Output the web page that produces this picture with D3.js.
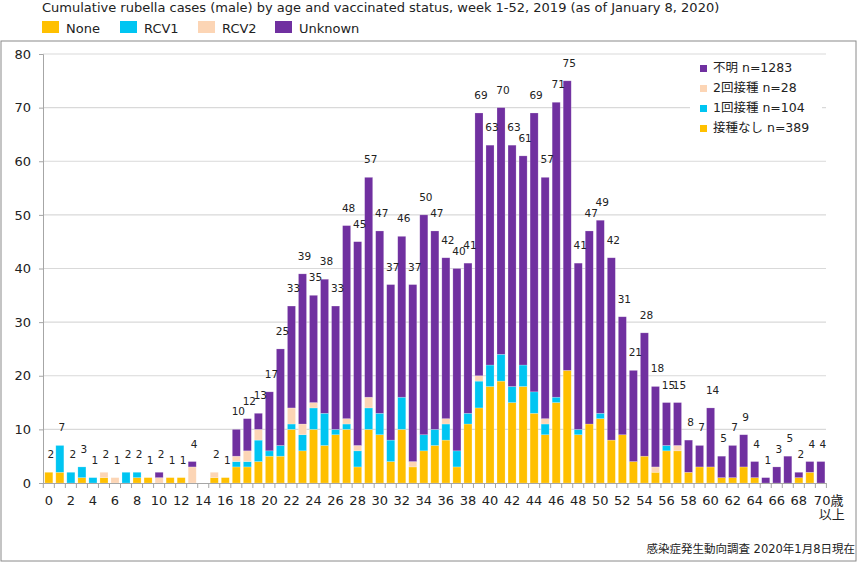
<!DOCTYPE html>
<html><head><meta charset="utf-8">
<script src="https://cdn.jsdelivr.net/npm/d3@7"></script>
<style>
body{margin:0;background:#fff;}
text{font-family:"DejaVu Sans","Noto Sans CJK JP",sans-serif;fill:#222;}
</style></head>
<body><svg id="c" width="858" height="564"></svg>
<script>
const ages = [0,1,2,3,4,5,6,7,8,9,10,11,12,13,14,15,16,17,18,19,20,21,22,23,24,25,26,27,28,29,30,31,32,33,34,35,36,37,38,39,40,41,42,43,44,45,46,47,48,49,50,51,52,53,54,55,56,57,58,59,60,61,62,63,64,65,66,67,68,69,70];
const noneVals = [2,2,0,1,0,1,0,0,1,1,0,1,1,0,0,1,1,3,3,4,5,5,10,6,10,7,9,10,3,10,9,4,10,3,6,7,8,3,11,14,18,19,15,18,13,9,15,21,9,11,12,8,9,4,5,2,6,6,2,3,3,1,1,3,1,0,0,0,1,2,0];
const rcv1Vals = [0,5,2,2,1,0,0,2,1,0,0,0,0,0,0,0,0,1,1,4,1,2,1,3,4,6,1,1,3,4,4,4,6,0,3,3,3,3,2,5,4,5,3,4,4,2,1,0,1,0,1,0,0,0,0,0,1,0,0,0,0,0,0,0,0,0,0,0,0,0,0];
const rcv2Vals = [0,0,0,0,0,1,1,0,0,0,1,0,0,3,0,1,0,1,2,2,0,0,3,2,1,0,0,1,1,2,0,0,0,1,0,0,1,0,0,1,0,0,0,0,0,1,0,0,0,0,0,0,0,0,0,1,0,1,0,0,0,0,0,0,0,0,0,0,0,0,0];
const unknownVals = [0,0,0,0,0,0,0,0,0,0,1,0,0,1,0,0,0,5,6,3,11,18,19,28,20,25,23,36,38,41,34,29,30,33,41,37,30,34,28,49,41,46,45,39,52,45,55,54,31,36,36,34,22,17,23,15,8,8,6,4,11,4,6,6,3,1,3,5,1,2,4];
const yTicks = [0,10,20,30,40,50,60,70,80];
const seriesNames = ["None","RCV1","RCV2","Unknown"];
const legendJP = ["不明 n=1283","2回接種 n=28","1回接種 n=104","接種なし n=389"];
const colors = {None:"#FFC000",RCV1:"#00C5F2",RCV2:"#FCD5B5",Unknown:"#7030A0"};
const titleText = "Cumulative rubella cases (male) by age and vaccinated status, week 1-52, 2019 (as of January 8, 2020)";
const sourceText = "感染症発生動向調査 2020年1月8日現在";

const rows = ages.map((a,i)=>({age:a,None:noneVals[i],RCV1:rcv1Vals[i],RCV2:rcv2Vals[i],Unknown:unknownVals[i]}));
const svg = d3.select("#c");

// frame
svg.append("rect").attr("x",1).attr("y",41).attr("width",855).attr("height",520)
  .attr("fill","none").attr("stroke","#8a8a8a").attr("stroke-width",1);

// title
const t = svg.append("text").attr("x",42).attr("y",12).attr("font-size",13).text(titleText);
const tw = t.node().getComputedTextLength();
t.attr("font-size",13*678/tw);

// top legend
const legX = [42,120,198,275];
seriesNames.forEach((s,i)=>{
  svg.append("rect").attr("x",legX[i]).attr("y",21).attr("width",17).attr("height",12).attr("fill",colors[s]);
  svg.append("text").attr("x",legX[i]+24).attr("y",32.5).attr("font-size",13).text(s);
});

const x = d3.scaleBand().domain(ages).range([43.3,826.4]).paddingInner(0.27).paddingOuter(0.135);
const y = d3.scaleLinear().domain([0,80]).range([483,54]);

// gridlines
svg.append("g").selectAll("line").data(yTicks.filter(d=>d>0)).join("line")
  .attr("x1",43).attr("x2",826).attr("y1",d=>y(d)).attr("y2",d=>y(d))
  .attr("stroke","#d9d9d9").attr("stroke-width",1.2);

// y axis
const yAxis = svg.append("g").attr("transform","translate(43,0)")
  .call(d3.axisLeft(y).tickValues(yTicks).tickSize(4).tickPadding(8));
yAxis.select(".domain").attr("stroke","#a6a6a6");
yAxis.selectAll(".tick line").attr("stroke","#a6a6a6");
yAxis.selectAll("text").attr("font-size",13).attr("font-family","DejaVu Sans").attr("fill","#222");

// bars
const stack = d3.stack().keys(seriesNames)(rows);
svg.append("g").selectAll("g").data(stack).join("g").attr("fill",d=>colors[d.key])
  .selectAll("rect").data(d=>d.filter(p=>p[1]-p[0]>0)).join("rect")
  .attr("x",d=>x(d.data.age)).attr("width",x.bandwidth())
  .attr("y",d=>y(d[1])).attr("height",d=>y(d[0])-y(d[1]))
  .attr("stroke","#fff").attr("stroke-opacity",0.35).attr("stroke-width",0.6);

// x axis
const xg = svg.append("g");
xg.append("line").attr("x1",43).attr("x2",826.4).attr("y1",483.5).attr("y2",483.5).attr("stroke","#a6a6a6");
const step = x.step();
const bounds = ages.map(a=>x(a)-x.paddingInner()*step/2).concat([x(70)+x.bandwidth()+x.paddingInner()*step/2]);
xg.selectAll("line.tk").data(bounds).join("line").attr("class","tk")
  .attr("x1",d=>d).attr("x2",d=>d).attr("y1",483).attr("y2",488).attr("stroke","#a6a6a6");
xg.selectAll("text.xl").data(ages.filter(a=>a%2===0 && a<70)).join("text").attr("class","xl")
  .attr("x",a=>x(a)+x.bandwidth()/2).attr("y",505).attr("text-anchor","middle").attr("font-size",13).text(a=>a);
xg.append("text").attr("x",x(70)-3).attr("y",505).attr("font-size",13).text("70歳");
xg.append("text").attr("x",x(70)+2).attr("y",519).attr("font-size",13).text("以上");

// totals
svg.append("g").selectAll("text").data(rows.filter(r=>r.None+r.RCV1+r.RCV2+r.Unknown>0)).join("text")
  .attr("x",r=>x(r.age)+x.bandwidth()/2+2).attr("y",r=>y(r.None+r.RCV1+r.RCV2+r.Unknown)-14)
  .attr("text-anchor","middle").attr("font-size",10.5).text(r=>r.None+r.RCV1+r.RCV2+r.Unknown);

// JP legend
svg.append("rect").attr("x",690).attr("y",57).attr("width",132).attr("height",81).attr("fill","#fff");
const jpKeys = ["Unknown","RCV2","RCV1","None"];
jpKeys.forEach((k,i)=>{
  const cy = 67+i*20;
  svg.append("rect").attr("x",700).attr("y",cy-2).attr("width",7).attr("height",7).attr("fill",colors[k]);
  svg.append("text").attr("x",713).attr("y",cy+5).attr("font-size",12.5).text(legendJP[i]);
});

// source
svg.append("text").attr("x",855).attr("y",553).attr("text-anchor","end").attr("font-size",11.5).text(sourceText);
</script></body></html>
